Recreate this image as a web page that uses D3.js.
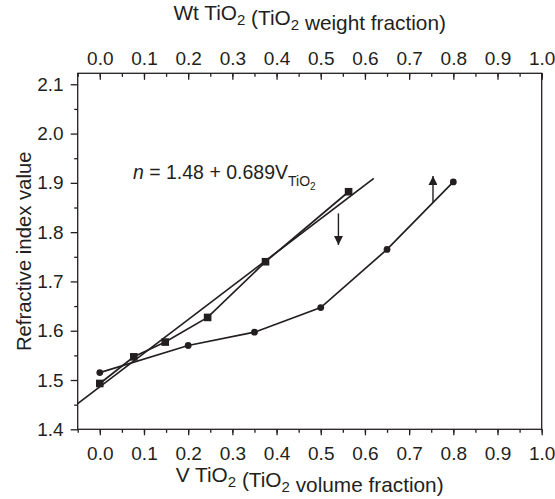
<!DOCTYPE html>
<html>
<head>
<meta charset="utf-8">
<script src="https://cdn.jsdelivr.net/npm/d3@7"></script>
<style>
  body { margin: 0; background: #fff; }
  svg text { font-family: "Liberation Sans", Arial, sans-serif; fill: #231f20; }
</style>
</head>
<body>
<svg id="chart" width="555" height="499"></svg>
<script>
// squares: measured series
var squareX = [0.0, 0.077, 0.148, 0.244, 0.375, 0.563];
var squareY = [1.493, 1.547, 1.577, 1.627, 1.740, 1.882];
// circles
var circleX = [0.0, 0.2, 0.35, 0.5, 0.65, 0.8];
var circleY = [1.515, 1.570, 1.597, 1.647, 1.765, 1.902];
// fitted line end points
var fitX = [-0.05, 0.62];
var fitY = [1.452, 1.909];
// arrows [x, from, to]
var arrowDown = [0.54, 1.838, 1.774];
var arrowUp = [0.754, 1.860, 1.914];
var xTicks = [0.0, 0.1, 0.2, 0.3, 0.4, 0.5, 0.6, 0.7, 0.8, 0.9, 1.0];
var yTicks = [1.4, 1.5, 1.6, 1.7, 1.8, 1.9, 2.0, 2.1];

var svg = d3.select("#chart");
var margin = {top: 73.3, right: 13.3, bottom: 69.7, left: 77.7};
var width = 555 - margin.left - margin.right;
var height = 499 - margin.top - margin.bottom;
var ink = "#231f20";

var g = svg.append("g")
    .attr("transform", "translate(" + margin.left + "," + margin.top + ")");

var x = d3.scaleLinear().domain([-0.05, 1.0]).range([0, width]);
var y = d3.scaleLinear().domain([1.4, 2.1223]).range([height, 0]);

var minorX = d3.range(-0.05, 1.0001, 0.05).map(function(d) { return +d.toFixed(2); });
var minorY = d3.range(1.45, 2.1001, 0.1).map(function(d) { return +d.toFixed(2); });

function styleAxis(sel) {
  sel.select(".domain").remove();
  sel.selectAll("line").attr("stroke", ink).attr("stroke-width", 1.3);
  sel.selectAll("text").style("font-size", "19px").attr("fill", ink);
}

// bottom axis (outward ticks)
g.append("g").attr("transform", "translate(0," + height + ")")
  .call(d3.axisBottom(x).tickValues(minorX).tickSize(3.5).tickFormat(""))
  .call(styleAxis);
g.append("g").attr("class", "x axis").attr("transform", "translate(0," + height + ")")
  .call(d3.axisBottom(x).tickValues(xTicks).tickSize(6).tickPadding(11)
    .tickFormat(d3.format(".1f")))
  .call(styleAxis);

// top axis (inward ticks)
g.append("g")
  .call(d3.axisTop(x).tickValues(minorX).tickSize(-3.5).tickFormat(""))
  .call(styleAxis);
g.append("g")
  .call(d3.axisTop(x).tickValues(xTicks).tickSize(-6.5).tickPadding(8.3)
    .tickFormat(d3.format(".1f")))
  .call(styleAxis);

// left axis (outward ticks)
g.append("g")
  .call(d3.axisLeft(y).tickValues(minorY).tickSize(3.5).tickFormat(""))
  .call(styleAxis);
g.append("g").attr("class", "y axis")
  .call(d3.axisLeft(y).tickValues(yTicks).tickSize(7).tickPadding(7)
    .tickFormat(d3.format(".1f")))
  .call(styleAxis);

// frame
g.append("rect")
  .attr("width", width).attr("height", height)
  .attr("fill", "none").attr("stroke", ink).attr("stroke-width", 1.3);

var line = d3.line()
  .x(function(d) { return x(d[0]); })
  .y(function(d) { return y(d[1]); });

var squares = d3.zip(squareX, squareY);
var circles = d3.zip(circleX, circleY);
var fit = d3.zip(fitX, fitY);

[fit, squares, circles].forEach(function(data) {
  g.append("path")
    .attr("fill", "none")
    .attr("stroke", ink)
    .attr("stroke-width", 1.7)
    .attr("d", line(data));
});

g.selectAll(".sq").data(squares).enter().append("rect")
  .attr("x", function(d) { return x(d[0]) - 3.8; })
  .attr("y", function(d) { return y(d[1]) - 3.8; })
  .attr("width", 7.6).attr("height", 7.6)
  .attr("fill", ink);

g.selectAll(".ci").data(circles).enter().append("circle")
  .attr("cx", function(d) { return x(d[0]); })
  .attr("cy", function(d) { return y(d[1]); })
  .attr("r", 3.4)
  .attr("fill", ink);

// arrows
svg.append("defs").append("marker")
  .attr("id", "head")
  .attr("viewBox", "0 0 10 10")
  .attr("refX", 10).attr("refY", 5)
  .attr("markerUnits", "userSpaceOnUse")
  .attr("markerWidth", 9).attr("markerHeight", 9)
  .attr("orient", "auto")
  .append("path").attr("d", "M0,0L10,5L0,10Z").attr("fill", ink);

[arrowDown, arrowUp].forEach(function(a) {
  g.append("line")
    .attr("x1", x(a[0])).attr("x2", x(a[0]))
    .attr("y1", y(a[1])).attr("y2", y(a[2]))
    .attr("stroke", ink).attr("stroke-width", 1.4)
    .attr("marker-end", "url(#head)");
});

// equation
var eq = g.append("text")
  .attr("x", x(0.075)).attr("y", y(1.908))
  .style("font-size", "19.5px");
eq.append("tspan").style("font-style", "italic").text("n");
eq.append("tspan").text(" = 1.48 + 0.689V");
eq.append("tspan").attr("dy", 7).style("font-size", "14px").text("TiO");
eq.append("tspan").attr("dy", 4).style("font-size", "10px").text("2");

// axis titles
function chem(sel, parts) {
  parts.forEach(function(p) {
    if (p.sub) {
      sel.append("tspan").attr("dy", 5).style("font-size", "15px").text(p.t);
      sel.append("tspan").attr("dy", -5).text("");
    } else {
      sel.append("tspan").text(p.t);
    }
  });
}

var topTitle = svg.append("text")
  .attr("x", margin.left + width / 2).attr("y", 20)
  .attr("text-anchor", "middle").style("font-size", "20.8px");
chem(topTitle, [{t: "Wt TiO"}, {t: "2", sub: true}, {t: " (TiO"}, {t: "2", sub: true},
  {t: " weight fraction)"}]);

var bottomTitle = svg.append("text")
  .attr("x", margin.left + width / 2).attr("y", 482)
  .attr("text-anchor", "middle").style("font-size", "20.8px");
chem(bottomTitle, [{t: "V TiO"}, {t: "2", sub: true}, {t: " (TiO"}, {t: "2", sub: true},
  {t: " volume fraction)"}]);

svg.append("text")
  .attr("transform", "translate(31," + (margin.top + height / 2) + ") rotate(-90)")
  .attr("text-anchor", "middle").style("font-size", "20.3px")
  .text("Refractive index value");
</script>
</body>
</html>
